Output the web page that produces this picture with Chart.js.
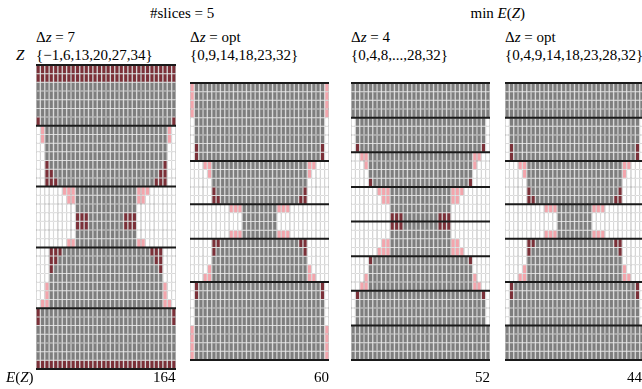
<!DOCTYPE html>
<html><head><meta charset="utf-8">
<script src="https://cdn.jsdelivr.net/npm/chart.js@4/dist/chart.umd.min.js"></script>
<style>
html,body{margin:0;padding:0;background:#fff;overflow:hidden;}
#wrap{position:relative;width:642px;height:389px;overflow:hidden;font-family:"Liberation Serif","Times New Roman",serif;font-size:15px;color:#000;}
.t{position:absolute;white-space:nowrap;line-height:15px;}
canvas{position:absolute;}
i{font-style:italic;}
</style></head><body><div id="wrap"></div>
<script>
const nColumns = 32;
// empty columns on each side of the true object, per object row
const objectInset = [0,0,0,0,1,1,1,2,2,3,4,5,6,7,9,12,12,9,7,6,5,4,3,2,2,1,1,1,0,0,0,0];
// slice boundaries (Z) per panel
const sliceZ1 = [-1,6,13,20,27,34];
const sliceZ2 = [0,9,14,18,23,32];
const sliceZ3 = [0,4,8,12,16,20,24,28,32];
const sliceZ4 = [0,4,9,14,18,23,28,32];
// empty columns on each side of each slice's approximation
const approxInset1 = [0,2,9,3,0];
const approxInset2 = [1,5,12,5,1];
const approxInset3 = [0,1,4,9,9,4,1,0];
const approxInset4 = [0,1,5,12,5,1,0];
// Z at which the object starts in each panel
const objectStartZ = [1,0,0,0];
const errorValues = [164,60,52,44];
const deltaLabels = ['7','opt','4','opt'];
const setLabels = ['{\u22121,6,13,20,27,34}','{0,9,14,18,23,32}','{0,4,8,...,28,32}','{0,4,9,14,18,23,28,32}'];

const GRAY='#7e7e7e', GRID='#aaaaaa', PINK='#f3a5ac', DARK='#7b3038', WHITE='#ffffff';
const wrap=document.getElementById('wrap');

const panels=[
  {slices:sliceZ1, approx:approxInset1, left:36, top:65, width:140, height:304},
  {slices:sliceZ2, approx:approxInset2, left:190, top:83, width:139, height:277},
  {slices:sliceZ3, approx:approxInset3, left:351, top:83, width:139, height:277},
  {slices:sliceZ4, approx:approxInset4, left:505, top:83, width:139, height:277}
];

const sliceLinePlugin={
  id:'sliceLines',
  afterDatasetsDraw(chart,args,opts){
    const {ctx,chartArea:a,scales:{y}}=chart;
    ctx.save();
    ctx.strokeStyle='#1a1a1a';ctx.lineWidth=2;
    opts.boundaries.forEach(b=>{
      const py=y.getPixelForValue(b);
      ctx.beginPath();ctx.moveTo(a.left,py);ctx.lineTo(a.right,py);ctx.stroke();
    });
    ctx.restore();
  }
};

function addText(html,left,top,align){
  const d=document.createElement('div');
  d.className='t';d.innerHTML=html;
  wrap.appendChild(d);
  if(align==='right'){d.style.left=(left-d.offsetWidth)+'px';}
  else if(align==='center'){d.style.left=(left-d.offsetWidth/2)+'px';}
  else d.style.left=left+'px';
  d.style.top=top+'px';
}

const colLabels=Array.from({length:nColumns},(_,i)=>String(i));

panels.forEach((p,idx)=>{
  const pad=2;
  const canvas=document.createElement('canvas');
  canvas.width=p.width+2*pad;canvas.height=p.height+2*pad;
  canvas.style.left=(p.left-pad)+'px';canvas.style.top=(p.top-pad)+'px';
  wrap.appendChild(canvas);
  const zMin=p.slices[0], zMax=p.slices[p.slices.length-1];
  const datasets=[];
  for(let z=zMin;z<zMax;z++){
    let s=0;while(z>=p.slices[s+1])s++;
    const r=z-objectStartZ[idx];
    const colors=[];
    for(let c=0;c<nColumns;c++){
      const tIn=r>=0&&r<objectInset.length&&c>=objectInset[r]&&c<nColumns-objectInset[r];
      const aIn=c>=p.approx[s]&&c<nColumns-p.approx[s];
      colors.push(tIn&&aIn?GRAY:(tIn?PINK:(aIn?DARK:WHITE)));
    }
    datasets.push({
      data:colLabels.map(()=>[z,z+1]),
      backgroundColor:colors,borderColor:GRID,
      borderWidth:{left:0.65,right:0.65,top:0.5,bottom:0.5},
      borderSkipped:false,grouped:false,inflateAmount:0,
      barPercentage:1,categoryPercentage:1
    });
  }
  new Chart(canvas,{
    type:'bar',
    data:{labels:colLabels,datasets},
    options:{
      responsive:false,animation:false,devicePixelRatio:1,
      layout:{padding:{left:pad,right:pad,top:pad,bottom:pad}},
      plugins:{legend:{display:false},tooltip:{enabled:false},sliceLines:{boundaries:p.slices}},
      scales:{
        x:{display:false,offset:true,grid:{display:false}},
        y:{display:false,min:zMin,max:zMax,reverse:true,grid:{display:false}}
      }
    },
    plugins:[sliceLinePlugin]
  });
  addText('\u0394<i>z</i> = '+deltaLabels[idx],p.left,30);
  addText(setLabels[idx],p.left,47.5);
  addText(String(errorValues[idx]),Math.min(p.left+p.width,642),370,'right');
});

addText('<i>Z</i>',16,47.5);
addText('<i>E</i>(<i>Z</i>)',6,370);
addText('#slices = 5',182,5.5,'center');
addText('min <i>E</i>(<i>Z</i>)',498,5.5,'center');
</script></body></html>
